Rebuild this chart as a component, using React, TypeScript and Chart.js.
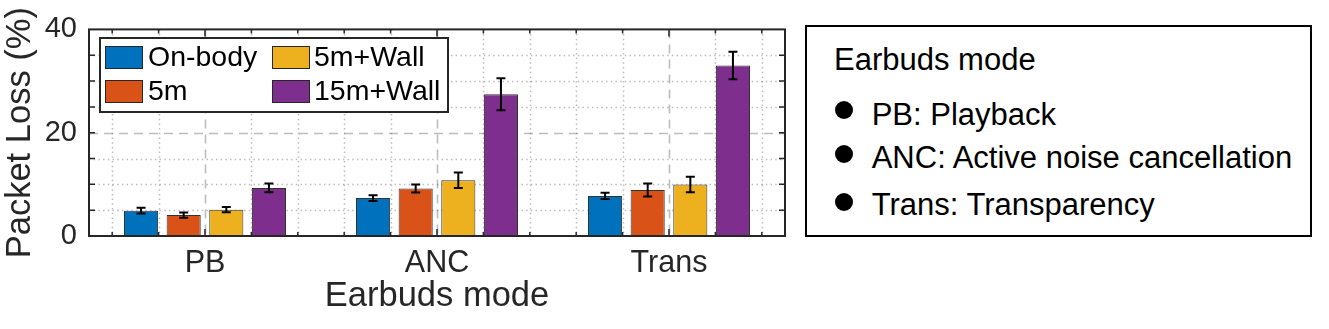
import React, { useEffect, useRef } from 'react';
import { Chart, registerables } from 'chart.js';

Chart.register(...registerables);

// ---------------- data ----------------
const categories = ['PB', 'ANC', 'Trans'];
const seriesLabels = ['On-body', '5m', '5m+Wall', '15m+Wall'];
const onBody = [4.9, 7.35, 7.75];
const fiveM = [4.05, 9.2, 8.9];
const fiveMWall = [5.1, 10.8, 9.95];
const fifteenMWall = [9.3, 27.45, 33.0];
const onBodyErr = [0.55, 0.55, 0.6];
const fiveMErr = [0.5, 0.78, 1.25];
const fiveMWallErr = [0.5, 1.5, 1.5];
const fifteenMWallErr = [0.85, 3.1, 2.65];
const yTickValues = [0, 20, 40];
const seriesColors = ['#0072BD', '#D95319', '#EDB120', '#7E2F8E'];
const noteTitle = 'Earbuds mode';
const modeNotes = ['PB: Playback', 'ANC: Active noise cancellation', 'Trans: Transparency'];

const seriesValues = [onBody, fiveM, fiveMWall, fifteenMWall];
const seriesErrors = [onBodyErr, fiveMErr, fiveMWallErr, fifteenMWallErr];

const FONT = '"Liberation Sans", Arial, Helvetica, sans-serif';
const AXIS = '#262626';
const GRID = 'rgba(38,38,38,0.30)';

const gridPlugin = {
  id: 'matlabGrid',
  beforeDatasetsDraw(chart: any) {
    const { ctx, chartArea, scales } = chart;
    const { left, right, top, bottom } = chartArea;
    const x = scales.x;
    const y = scales.y;
    ctx.save();
    ctx.strokeStyle = GRID;
    for (let v = 5; v < 40; v += 5) {
      const p = Math.round(y.getPixelForValue(v)) + 0.5;
      const major = v % 20 === 0;
      ctx.lineWidth = major ? 1.6 : 1.5;
      ctx.setLineDash(major ? [9, 6] : [1.5, 3.2]);
      ctx.beginPath();
      ctx.moveTo(left, p);
      ctx.lineTo(right, p);
      ctx.stroke();
    }
    for (let k = -2; k <= 12; k++) {
      const v = k * 0.2;
      const p = Math.round(x.getPixelForValue(v)) + 0.5;
      const major = k % 5 === 0;
      ctx.lineWidth = major ? 1.6 : 1.5;
      ctx.setLineDash(major ? [9, 6] : [1.5, 3.2]);
      ctx.beginPath();
      ctx.moveTo(p, top);
      ctx.lineTo(p, bottom);
      ctx.stroke();
    }
    ctx.restore();
  },
  afterDatasetsDraw(chart: any) {
    const { ctx, chartArea, scales } = chart;
    const { left, right, top, bottom } = chartArea;
    const x = scales.x;
    const y = scales.y;
    ctx.save();
    ctx.strokeStyle = '#000';
    ctx.lineWidth = 2;
    ctx.setLineDash([]);
    chart.data.datasets.forEach((ds: any, d: number) => {
      const meta = chart.getDatasetMeta(d);
      meta.data.forEach((bar: any, i: number) => {
        const v = seriesValues[d][i];
        const e = seriesErrors[d][i];
        const y1 = y.getPixelForValue(v + e);
        const y2 = y.getPixelForValue(v - e);
        const cx = bar.x;
        ctx.beginPath();
        ctx.moveTo(cx, y1);
        ctx.lineTo(cx, y2);
        ctx.moveTo(cx - 4.5, y1);
        ctx.lineTo(cx + 4.5, y1);
        ctx.moveTo(cx - 4.5, y2);
        ctx.lineTo(cx + 4.5, y2);
        ctx.stroke();
      });
    });
    ctx.strokeStyle = AXIS;
    ctx.lineWidth = 1.5;
    for (let v = 5; v < 40; v += 5) {
      const p = y.getPixelForValue(v);
      const len = 6;
      ctx.beginPath();
      ctx.moveTo(left, p);
      ctx.lineTo(left + len, p);
      ctx.moveTo(right, p);
      ctx.lineTo(right - len, p);
      ctx.stroke();
    }
    for (let k = -2; k <= 12; k++) {
      const v = k * 0.2;
      const p = x.getPixelForValue(v);
      const len = k % 5 === 0 ? 7 : 4;
      ctx.beginPath();
      ctx.moveTo(p, bottom);
      ctx.lineTo(p, bottom - len);
      ctx.moveTo(p, top);
      ctx.lineTo(p, top + len);
      ctx.stroke();
    }
    ctx.lineWidth = 2;
    ctx.strokeRect(left, top, right - left, bottom - top);
    ctx.restore();
  },
  afterDraw(chart: any) {
    const { ctx } = chart;
    ctx.save();
    const bx = 100, by = 38, bw = 348, bh = 74;
    ctx.fillStyle = '#fff';
    ctx.fillRect(bx, by, bw, bh);
    ctx.strokeStyle = AXIS;
    ctx.lineWidth = 2;
    ctx.strokeRect(bx, by, bw, bh);
    const colSwatch = [105, 272];
    const colText = [148, 314];
    const rowTop = [46, 80];
    ctx.font = `28.5px ${FONT}`;
    ctx.textBaseline = 'middle';
    ctx.textAlign = 'left';
    chart.data.datasets.forEach((ds: any, i: number) => {
      const col = Math.floor(i / 2);
      const row = i % 2;
      ctx.fillStyle = ds.backgroundColor;
      ctx.fillRect(colSwatch[col], rowTop[row], 38, 23);
      ctx.strokeStyle = AXIS;
      ctx.lineWidth = 1;
      ctx.strokeRect(colSwatch[col] + 0.5, rowTop[row] + 0.5, 37, 22);
      ctx.fillStyle = '#000';
      ctx.fillText(ds.label, colText[col], rowTop[row] + 12);
    });
    ctx.restore();
  },
};

export default function App() {
  const canvasRef = useRef<HTMLCanvasElement | null>(null);

  useEffect(() => {
    if (!canvasRef.current) return;
    const chart = new Chart(canvasRef.current, {
      type: 'bar',
      data: {
        labels: categories,
        datasets: seriesLabels.map((label, i) => ({
          label,
          data: seriesValues[i],
          backgroundColor: seriesColors[i],
          borderColor: '#333333',
          borderWidth: 1,
          borderSkipped: false,
          categoryPercentage: 0.735,
          barPercentage: 0.8,
        })),
      },
      options: {
        animation: false,
        responsive: false,
        devicePixelRatio: 1,
        layout: { padding: { left: 0, top: 29, right: 15, bottom: 0 } },
        plugins: {
          legend: { display: false },
          tooltip: { enabled: false },
        },
        scales: {
          x: {
            type: 'category',
            offset: true,
            grid: { display: false, drawTicks: false },
            border: { display: false },
            ticks: {
              color: AXIS,
              font: { family: FONT, size: 30.5 },
              padding: 9,
              maxRotation: 0,
            },
            title: {
              display: true,
              text: 'Earbuds mode',
              color: AXIS,
              font: { family: FONT, size: 34.5 },
              padding: { top: 0, bottom: 12 },
            },
            afterFit(scale: any) {
              scale.height = 93;
            },
          },
          y: {
            type: 'linear',
            min: 0,
            max: 40,
            grid: { display: false, drawTicks: false },
            border: { display: false },
            afterBuildTicks(scale: any) {
              scale.ticks = yTickValues.map((v) => ({ value: v }));
            },
            ticks: {
              color: AXIS,
              font: { family: FONT, size: 29 },
              padding: 12,
            },
            title: {
              display: true,
              text: 'Packet Loss (%)',
              color: AXIS,
              font: { family: FONT, size: 34.5 },
              padding: { top: 0, bottom: 0 },
            },
            afterFit(scale: any) {
              scale.width = 89;
            },
          },
        },
      } as any,
      plugins: [gridPlugin],
    });
    return () => chart.destroy();
  }, []);

  const textStyle: React.CSSProperties = {
    position: 'absolute',
    fontFamily: FONT,
    fontSize: '31px',
    lineHeight: '31px',
    color: '#000',
    whiteSpace: 'nowrap',
  };
  const rowTops = [98.8, 142.1, 188.8];
  const bulletCenters = [110, 154, 201.7];

  return (
    <div style={{ position: 'absolute', left: 0, top: 0, width: 1329, height: 329, background: '#fff', overflow: 'hidden' }}>
      <canvas ref={canvasRef} width={800} height={329} style={{ position: 'absolute', left: 0, top: 0, display: 'block' }} />
      <div
        style={{
          position: 'absolute',
          left: 805,
          top: 25,
          width: 507,
          height: 212,
          border: '2px solid #000',
          boxSizing: 'border-box',
        }}
      />
      <div style={{ ...textStyle, left: 834, top: 43.8 }}>{noteTitle}</div>
      {modeNotes.map((t, i) => (
        <React.Fragment key={t}>
          <div
            style={{
              position: 'absolute',
              left: 844 - 9,
              top: bulletCenters[i] - 9,
              width: 18,
              height: 18,
              borderRadius: '50%',
              background: '#000',
            }}
          />
          <div style={{ ...textStyle, left: 871.7, top: rowTops[i] }}>{t}</div>
        </React.Fragment>
      ))}
    </div>
  );
}
